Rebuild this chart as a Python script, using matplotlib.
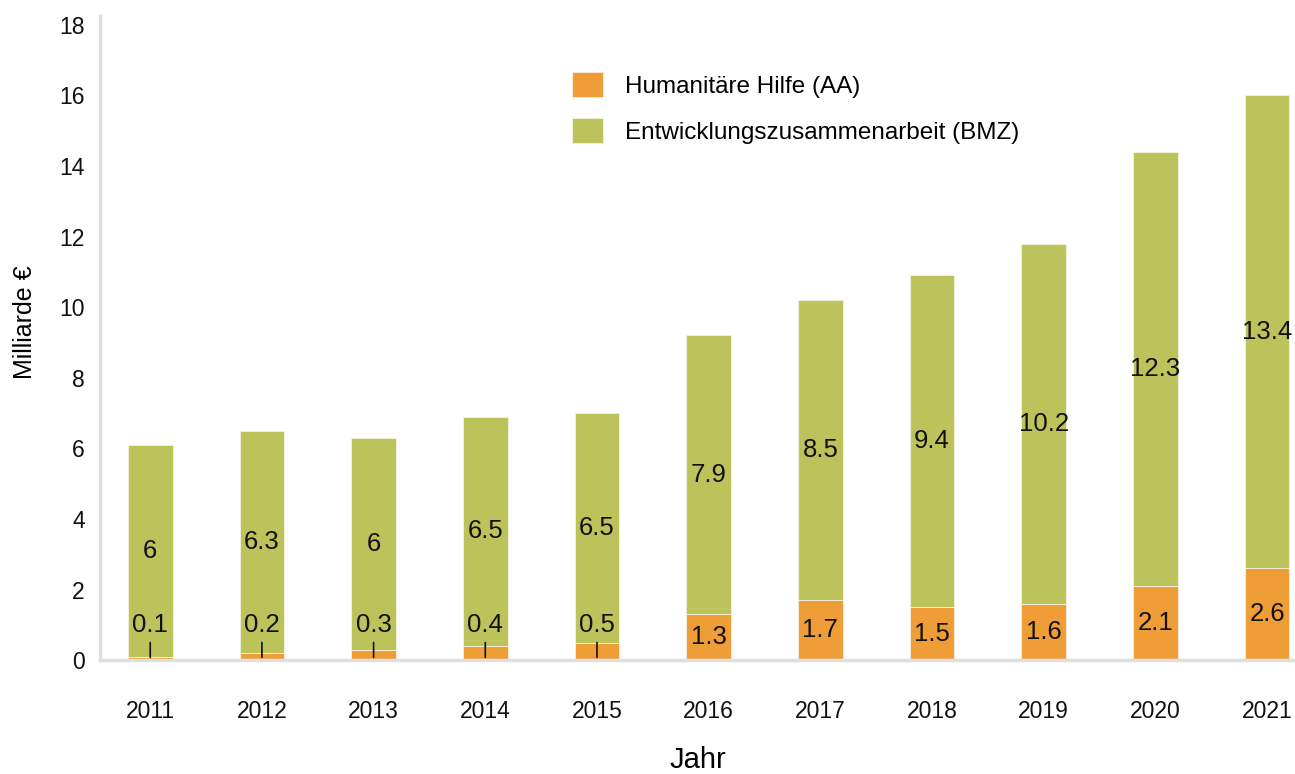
import matplotlib
matplotlib.use('Agg')
import matplotlib.pyplot as plt

# Data
years = ['2011', '2012', '2013', '2014', '2015', '2016', '2017', '2018', '2019', '2020', '2021']
humanitaer = [0.1, 0.2, 0.3, 0.4, 0.5, 1.3, 1.7, 1.5, 1.6, 2.1, 2.6]
entwicklung = [6, 6.3, 6, 6.5, 6.5, 7.9, 8.5, 9.4, 10.2, 12.3, 13.4]
yticks = [0, 2, 4, 6, 8, 10, 12, 14, 16, 18]

orange = '#EF9E37'
green = '#BDC35B'
plt.rcParams['font.family'] = ['Liberation Sans', 'DejaVu Sans']

fig = plt.figure(figsize=(12.95, 7.74), dpi=100)
ax = fig.add_axes([0.0772, 0.147, 0.9228, 0.832])

x = list(range(len(years)))
ax.bar(x, humanitaer, width=0.4, color=orange, edgecolor='#f6f3e0', linewidth=0.6,
       label='Humanitäre Hilfe (AA)')
ax.bar(x, entwicklung, width=0.4, bottom=humanitaer, color=green, edgecolor='#f6f3e0',
       linewidth=0.6, label='Entwicklungszusammenarbeit (BMZ)')

# Value labels
for i, (h, e) in enumerate(zip(humanitaer, entwicklung)):
    ax.text(i, h + e / 2, f'{e:g}', ha='center', va='center', fontsize=18.5,
            color='#111111')
    if h < 1:
        ax.annotate(f'{h:g}', xy=(i, 0.08), xytext=(i, 1.0), ha='center', va='center',
                    fontsize=18.5, color='#111111',
                    arrowprops=dict(arrowstyle='-', color='#111111', lw=1.2,
                                    shrinkA=2, shrinkB=0))
    else:
        ax.text(i, h / 2, f'{h:g}', ha='center', va='center', fontsize=18.5,
                color='#111111')

ax.set_xlim(-0.45, 10.25)
ax.set_ylim(0, 18.24)
ax.set_yticks(yticks)
ax.set_xticks(x)
ax.set_xticklabels(years, fontsize=16.5)
ax.set_yticklabels([str(t) for t in yticks], fontsize=16.5)
ax.tick_params(length=0, colors='#111111')
ax.tick_params(axis='x', pad=29)
ax.tick_params(axis='y', pad=11)

for s in ['top', 'right']:
    ax.spines[s].set_visible(False)
for s in ['left', 'bottom']:
    ax.spines[s].set_color('#dedee3')
    ax.spines[s].set_linewidth(2.5)

ax.set_ylabel('Milliarde €', fontsize=18)
ax.yaxis.set_label_coords(-0.0525, 0.525)
ax.set_xlabel('Jahr', fontsize=21, labelpad=16)

leg = ax.legend(loc='upper left', bbox_to_anchor=(0.377, 0.948), frameon=False,
                prop={'size': 17.5}, handlelength=1.25, handleheight=1.25,
                handletextpad=0.9, labelspacing=0.82)

fig.savefig('out.png', dpi=100)
